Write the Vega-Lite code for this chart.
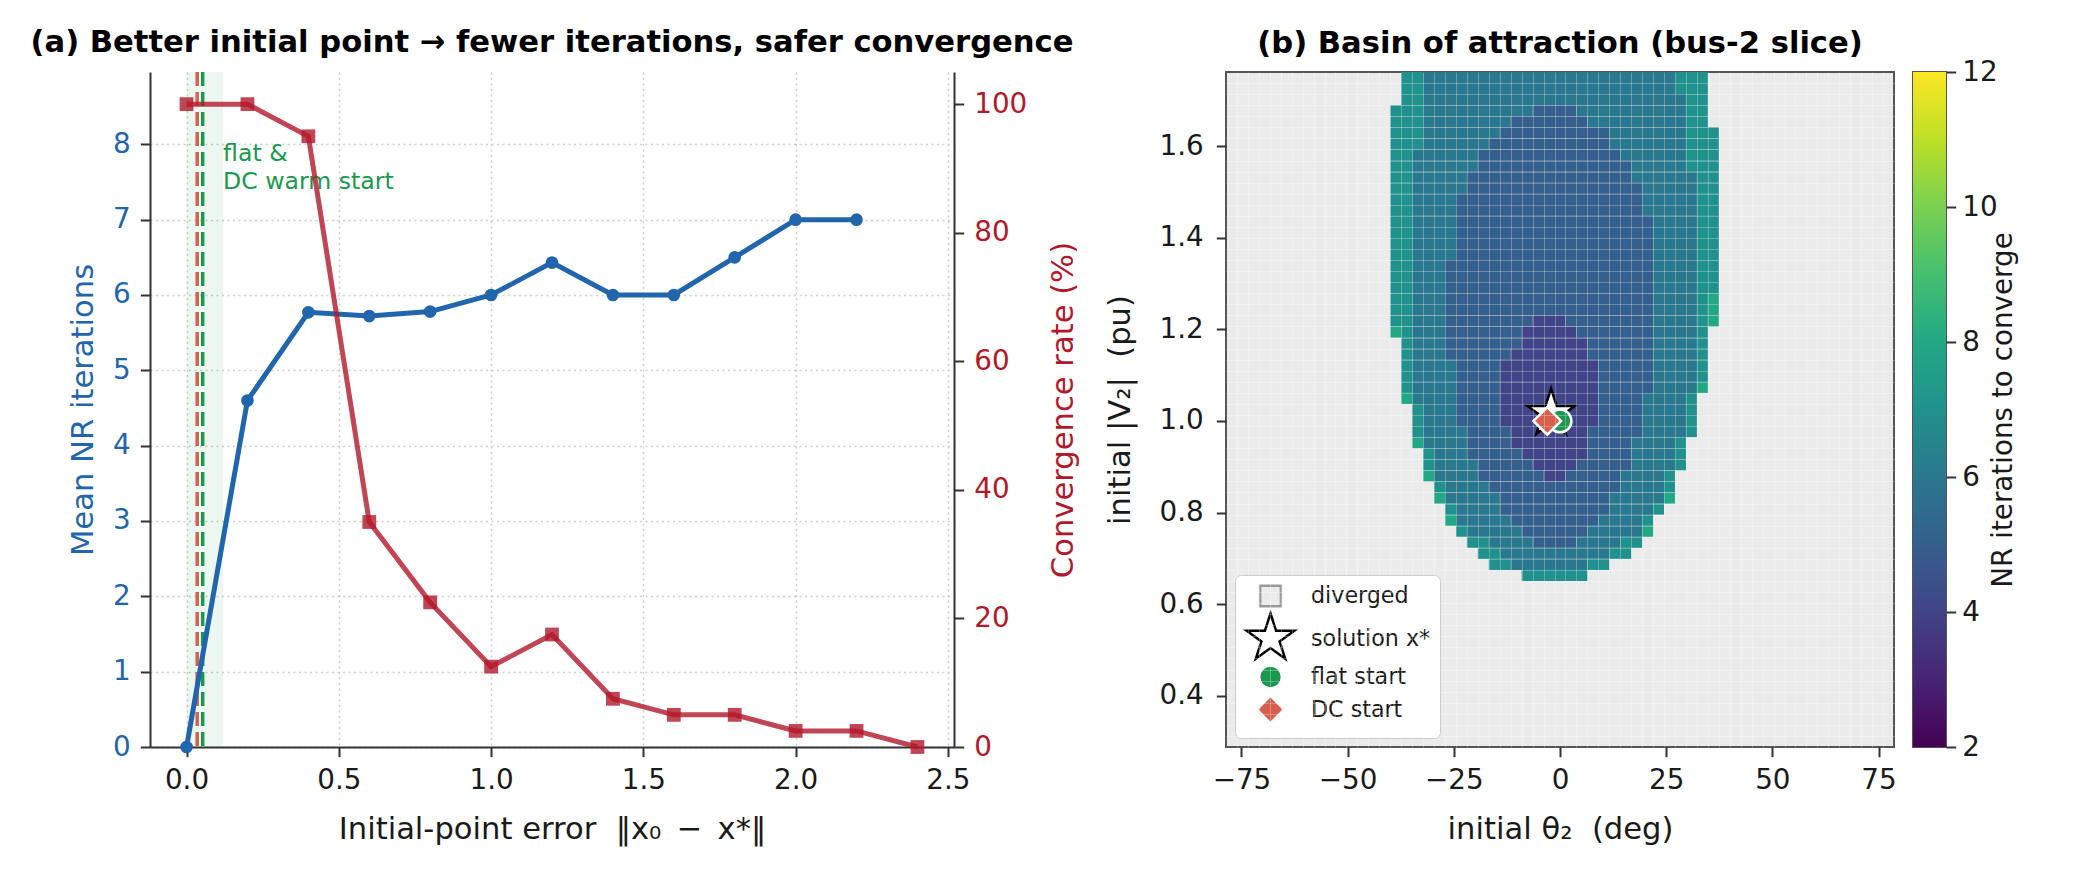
{
  "$schema": "https://vega.github.io/schema/vega-lite/v6.json",
  "background": "white",
  "padding": {"left": 30, "top": 27, "right": 10, "bottom": 10},
  "bounds": "flush",
  "spacing": 272,
  "resolve": {"legend": {"shape": "independent", "fill": "independent", "stroke": "independent", "size": "independent"}},
  "config": {
    "font": "DejaVu Sans",
    "view": {"stroke": null},
    "axis": {
      "labelFont": "DejaVu Sans", "titleFont": "DejaVu Sans",
      "labelFontSize": 27.8, "titleFontSize": 30.6, "titleFontWeight": "normal",
      "labelColor": "#1a1a1a", "titleColor": "#1a1a1a",
      "tickColor": "#333333", "domainColor": "#333333",
      "tickSize": 9.7, "tickWidth": 2, "domainWidth": 2,
      "labelPadding": 10, "titlePadding": 14, "labelFlush": false, "labelOverlap": false
    },
    "title": {"font": "DejaVu Sans", "fontSize": 30.6, "fontWeight": "bold", "color": "#000000", "anchor": "middle", "frame": "group", "offset": 12},
    "legend": {
      "orient": "bottom-left", "offset": 9, "padding": 9,
      "fillColor": "#ffffff", "strokeColor": "#cccccc", "cornerRadius": 6,
      "labelFont": "DejaVu Sans", "labelFontSize": 22.2, "labelColor": "#1a1a1a",
      "symbolStrokeWidth": 2.5, "rowPadding": -8, "labelOffset": 14
    }
  },
  "datasets": {
    "sweep": [
      {"err": 0.0, "iters": 0.0, "conv": 100},
      {"err": 0.2, "iters": 4.6, "conv": 100},
      {"err": 0.4, "iters": 5.77, "conv": 95},
      {"err": 0.6, "iters": 5.72, "conv": 35},
      {"err": 0.8, "iters": 5.78, "conv": 22.5},
      {"err": 1.0, "iters": 6.0, "conv": 12.5},
      {"err": 1.2, "iters": 6.43, "conv": 17.5},
      {"err": 1.4, "iters": 6.0, "conv": 7.5},
      {"err": 1.6, "iters": 6.0, "conv": 5},
      {"err": 1.8, "iters": 6.5, "conv": 5},
      {"err": 2.0, "iters": 7.0, "conv": 2.5},
      {"err": 2.2, "iters": 7.0, "conv": 2.5},
      {"err": 2.4, "iters": null, "conv": 0}
    ],
    "starts": [
      {"label": "solution x*", "th": -2.1, "V": 1.016},
      {"label": "flat start", "th": 0.0, "V": 1.0},
      {"label": "DC start", "th": -3.0, "V": 1.0}
    ],
    "basin": [
      {"v0":1.7138,"v1":1.7621,"t0":-37.39,"t1":-32.23,"n":7},
      {"v0":1.7138,"v1":1.7621,"t0":-32.23,"t1":27.07,"n":6},
      {"v0":1.7138,"v1":1.7621,"t0":27.07,"t1":34.81,"n":7},
      {"v0":1.6896,"v1":1.7138,"t0":-37.39,"t1":-32.23,"n":7},
      {"v0":1.6896,"v1":1.7138,"t0":-32.23,"t1":29.65,"n":6},
      {"v0":1.6896,"v1":1.7138,"t0":29.65,"t1":34.81,"n":7},
      {"v0":1.6654,"v1":1.6896,"t0":-39.96,"t1":-32.23,"n":7},
      {"v0":1.6654,"v1":1.6896,"t0":-32.23,"t1":-6.45,"n":6},
      {"v0":1.6654,"v1":1.6896,"t0":-6.45,"t1":3.87,"n":5},
      {"v0":1.6654,"v1":1.6896,"t0":3.87,"t1":29.65,"n":6},
      {"v0":1.6654,"v1":1.6896,"t0":29.65,"t1":34.81,"n":7},
      {"v0":1.6413,"v1":1.6654,"t0":-39.96,"t1":-32.23,"n":7},
      {"v0":1.6413,"v1":1.6654,"t0":-32.23,"t1":-11.6,"n":6},
      {"v0":1.6413,"v1":1.6654,"t0":-11.6,"t1":6.45,"n":5},
      {"v0":1.6413,"v1":1.6654,"t0":6.45,"t1":29.65,"n":6},
      {"v0":1.6413,"v1":1.6654,"t0":29.65,"t1":34.81,"n":7},
      {"v0":1.6171,"v1":1.6413,"t0":-39.96,"t1":-32.23,"n":7},
      {"v0":1.6171,"v1":1.6413,"t0":-32.23,"t1":-14.18,"n":6},
      {"v0":1.6171,"v1":1.6413,"t0":-14.18,"t1":11.6,"n":5},
      {"v0":1.6171,"v1":1.6413,"t0":11.6,"t1":29.65,"n":6},
      {"v0":1.6171,"v1":1.6413,"t0":29.65,"t1":37.39,"n":7},
      {"v0":1.5929,"v1":1.6171,"t0":-39.96,"t1":-32.23,"n":7},
      {"v0":1.5929,"v1":1.6171,"t0":-32.23,"t1":-16.76,"n":6},
      {"v0":1.5929,"v1":1.6171,"t0":-16.76,"t1":11.6,"n":5},
      {"v0":1.5929,"v1":1.6171,"t0":11.6,"t1":29.65,"n":6},
      {"v0":1.5929,"v1":1.6171,"t0":29.65,"t1":37.39,"n":7},
      {"v0":1.5688,"v1":1.5929,"t0":-39.96,"t1":-34.81,"n":7},
      {"v0":1.5688,"v1":1.5929,"t0":-34.81,"t1":-19.34,"n":6},
      {"v0":1.5688,"v1":1.5929,"t0":-19.34,"t1":14.18,"n":5},
      {"v0":1.5688,"v1":1.5929,"t0":14.18,"t1":29.65,"n":6},
      {"v0":1.5688,"v1":1.5929,"t0":29.65,"t1":37.39,"n":7},
      {"v0":1.5446,"v1":1.5688,"t0":-39.96,"t1":-34.81,"n":7},
      {"v0":1.5446,"v1":1.5688,"t0":-34.81,"t1":-19.34,"n":6},
      {"v0":1.5446,"v1":1.5688,"t0":-19.34,"t1":16.76,"n":5},
      {"v0":1.5446,"v1":1.5688,"t0":16.76,"t1":29.65,"n":6},
      {"v0":1.5446,"v1":1.5688,"t0":29.65,"t1":37.39,"n":7},
      {"v0":1.5204,"v1":1.5446,"t0":-39.96,"t1":-34.81,"n":7},
      {"v0":1.5204,"v1":1.5446,"t0":-34.81,"t1":-21.92,"n":6},
      {"v0":1.5204,"v1":1.5446,"t0":-21.92,"t1":16.76,"n":5},
      {"v0":1.5204,"v1":1.5446,"t0":16.76,"t1":32.23,"n":6},
      {"v0":1.5204,"v1":1.5446,"t0":32.23,"t1":37.39,"n":7},
      {"v0":1.4963,"v1":1.5204,"t0":-39.96,"t1":-34.81,"n":7},
      {"v0":1.4963,"v1":1.5204,"t0":-34.81,"t1":-21.92,"n":6},
      {"v0":1.4963,"v1":1.5204,"t0":-21.92,"t1":19.34,"n":5},
      {"v0":1.4963,"v1":1.5204,"t0":19.34,"t1":32.23,"n":6},
      {"v0":1.4963,"v1":1.5204,"t0":32.23,"t1":37.39,"n":7},
      {"v0":1.4479,"v1":1.4963,"t0":-39.96,"t1":-34.81,"n":7},
      {"v0":1.4479,"v1":1.4963,"t0":-34.81,"t1":-24.49,"n":6},
      {"v0":1.4479,"v1":1.4963,"t0":-24.49,"t1":19.34,"n":5},
      {"v0":1.4479,"v1":1.4963,"t0":19.34,"t1":32.23,"n":6},
      {"v0":1.4479,"v1":1.4963,"t0":32.23,"t1":37.39,"n":7},
      {"v0":1.3513,"v1":1.4479,"t0":-39.96,"t1":-34.81,"n":7},
      {"v0":1.3513,"v1":1.4479,"t0":-34.81,"t1":-24.49,"n":6},
      {"v0":1.3513,"v1":1.4479,"t0":-24.49,"t1":21.92,"n":5},
      {"v0":1.3513,"v1":1.4479,"t0":21.92,"t1":32.23,"n":6},
      {"v0":1.3513,"v1":1.4479,"t0":32.23,"t1":37.39,"n":7},
      {"v0":1.2788,"v1":1.3513,"t0":-39.96,"t1":-34.81,"n":7},
      {"v0":1.2788,"v1":1.3513,"t0":-34.81,"t1":-27.07,"n":6},
      {"v0":1.2788,"v1":1.3513,"t0":-27.07,"t1":21.92,"n":5},
      {"v0":1.2788,"v1":1.3513,"t0":21.92,"t1":32.23,"n":6},
      {"v0":1.2788,"v1":1.3513,"t0":32.23,"t1":37.39,"n":7},
      {"v0":1.2304,"v1":1.2788,"t0":-39.96,"t1":-34.81,"n":7},
      {"v0":1.2304,"v1":1.2788,"t0":-34.81,"t1":-27.07,"n":6},
      {"v0":1.2304,"v1":1.2788,"t0":-27.07,"t1":21.92,"n":5},
      {"v0":1.2304,"v1":1.2788,"t0":21.92,"t1":32.23,"n":6},
      {"v0":1.2304,"v1":1.2788,"t0":32.23,"t1":34.81,"n":7},
      {"v0":1.2304,"v1":1.2788,"t0":34.81,"t1":37.39,"n":8},
      {"v0":1.2063,"v1":1.2304,"t0":-39.96,"t1":-34.81,"n":7},
      {"v0":1.2063,"v1":1.2304,"t0":-34.81,"t1":-27.07,"n":6},
      {"v0":1.2063,"v1":1.2304,"t0":-27.07,"t1":-6.45,"n":5},
      {"v0":1.2063,"v1":1.2304,"t0":-6.45,"t1":1.29,"n":4},
      {"v0":1.2063,"v1":1.2304,"t0":1.29,"t1":21.92,"n":5},
      {"v0":1.2063,"v1":1.2304,"t0":21.92,"t1":32.23,"n":6},
      {"v0":1.2063,"v1":1.2304,"t0":32.23,"t1":34.81,"n":7},
      {"v0":1.2063,"v1":1.2304,"t0":34.81,"t1":37.39,"n":8},
      {"v0":1.1821,"v1":1.2063,"t0":-39.96,"t1":-37.39,"n":8},
      {"v0":1.1821,"v1":1.2063,"t0":-37.39,"t1":-34.81,"n":7},
      {"v0":1.1821,"v1":1.2063,"t0":-34.81,"t1":-27.07,"n":6},
      {"v0":1.1821,"v1":1.2063,"t0":-27.07,"t1":-9.02,"n":5},
      {"v0":1.1821,"v1":1.2063,"t0":-9.02,"t1":3.87,"n":4},
      {"v0":1.1821,"v1":1.2063,"t0":3.87,"t1":21.92,"n":5},
      {"v0":1.1821,"v1":1.2063,"t0":21.92,"t1":32.23,"n":6},
      {"v0":1.1821,"v1":1.2063,"t0":32.23,"t1":34.81,"n":7},
      {"v0":1.1579,"v1":1.1821,"t0":-37.39,"t1":-34.81,"n":7},
      {"v0":1.1579,"v1":1.1821,"t0":-34.81,"t1":-27.07,"n":6},
      {"v0":1.1579,"v1":1.1821,"t0":-27.07,"t1":-9.02,"n":5},
      {"v0":1.1579,"v1":1.1821,"t0":-9.02,"t1":6.45,"n":4},
      {"v0":1.1579,"v1":1.1821,"t0":6.45,"t1":21.92,"n":5},
      {"v0":1.1579,"v1":1.1821,"t0":21.92,"t1":32.23,"n":6},
      {"v0":1.1579,"v1":1.1821,"t0":32.23,"t1":34.81,"n":7},
      {"v0":1.1338,"v1":1.1579,"t0":-37.39,"t1":-34.81,"n":7},
      {"v0":1.1338,"v1":1.1579,"t0":-34.81,"t1":-27.07,"n":6},
      {"v0":1.1338,"v1":1.1579,"t0":-27.07,"t1":-11.6,"n":5},
      {"v0":1.1338,"v1":1.1579,"t0":-11.6,"t1":6.45,"n":4},
      {"v0":1.1338,"v1":1.1579,"t0":6.45,"t1":21.92,"n":5},
      {"v0":1.1338,"v1":1.1579,"t0":21.92,"t1":32.23,"n":6},
      {"v0":1.1338,"v1":1.1579,"t0":32.23,"t1":34.81,"n":7},
      {"v0":1.0854,"v1":1.1338,"t0":-37.39,"t1":-34.81,"n":7},
      {"v0":1.0854,"v1":1.1338,"t0":-34.81,"t1":-24.49,"n":6},
      {"v0":1.0854,"v1":1.1338,"t0":-24.49,"t1":-14.18,"n":5},
      {"v0":1.0854,"v1":1.1338,"t0":-14.18,"t1":9.02,"n":4},
      {"v0":1.0854,"v1":1.1338,"t0":9.02,"t1":21.92,"n":5},
      {"v0":1.0854,"v1":1.1338,"t0":21.92,"t1":32.23,"n":6},
      {"v0":1.0854,"v1":1.1338,"t0":32.23,"t1":34.81,"n":7},
      {"v0":1.0613,"v1":1.0854,"t0":-37.39,"t1":-34.81,"n":7},
      {"v0":1.0613,"v1":1.0854,"t0":-34.81,"t1":-24.49,"n":6},
      {"v0":1.0613,"v1":1.0854,"t0":-24.49,"t1":-14.18,"n":5},
      {"v0":1.0613,"v1":1.0854,"t0":-14.18,"t1":9.02,"n":4},
      {"v0":1.0613,"v1":1.0854,"t0":9.02,"t1":21.92,"n":5},
      {"v0":1.0613,"v1":1.0854,"t0":21.92,"t1":32.23,"n":6},
      {"v0":1.0613,"v1":1.0854,"t0":32.23,"t1":34.81,"n":8},
      {"v0":1.0371,"v1":1.0613,"t0":-37.39,"t1":-34.81,"n":8},
      {"v0":1.0371,"v1":1.0613,"t0":-34.81,"t1":-24.49,"n":6},
      {"v0":1.0371,"v1":1.0613,"t0":-24.49,"t1":-14.18,"n":5},
      {"v0":1.0371,"v1":1.0613,"t0":-14.18,"t1":9.02,"n":4},
      {"v0":1.0371,"v1":1.0613,"t0":9.02,"t1":19.34,"n":5},
      {"v0":1.0371,"v1":1.0613,"t0":19.34,"t1":29.65,"n":6},
      {"v0":1.0371,"v1":1.0613,"t0":29.65,"t1":32.23,"n":7},
      {"v0":0.9888,"v1":1.0371,"t0":-34.81,"t1":-32.23,"n":7},
      {"v0":0.9888,"v1":1.0371,"t0":-32.23,"t1":-24.49,"n":6},
      {"v0":0.9888,"v1":1.0371,"t0":-24.49,"t1":-14.18,"n":5},
      {"v0":0.9888,"v1":1.0371,"t0":-14.18,"t1":9.02,"n":4},
      {"v0":0.9888,"v1":1.0371,"t0":9.02,"t1":19.34,"n":5},
      {"v0":0.9888,"v1":1.0371,"t0":19.34,"t1":29.65,"n":6},
      {"v0":0.9888,"v1":1.0371,"t0":29.65,"t1":32.23,"n":7},
      {"v0":0.9646,"v1":0.9888,"t0":-34.81,"t1":-32.23,"n":7},
      {"v0":0.9646,"v1":0.9888,"t0":-32.23,"t1":-21.92,"n":6},
      {"v0":0.9646,"v1":0.9888,"t0":-21.92,"t1":-11.6,"n":5},
      {"v0":0.9646,"v1":0.9888,"t0":-11.6,"t1":6.45,"n":4},
      {"v0":0.9646,"v1":0.9888,"t0":6.45,"t1":19.34,"n":5},
      {"v0":0.9646,"v1":0.9888,"t0":19.34,"t1":29.65,"n":6},
      {"v0":0.9646,"v1":0.9888,"t0":29.65,"t1":32.23,"n":7},
      {"v0":0.9404,"v1":0.9646,"t0":-34.81,"t1":-32.23,"n":8},
      {"v0":0.9404,"v1":0.9646,"t0":-32.23,"t1":-21.92,"n":6},
      {"v0":0.9404,"v1":0.9646,"t0":-21.92,"t1":-11.6,"n":5},
      {"v0":0.9404,"v1":0.9646,"t0":-11.6,"t1":6.45,"n":4},
      {"v0":0.9404,"v1":0.9646,"t0":6.45,"t1":16.76,"n":5},
      {"v0":0.9404,"v1":0.9646,"t0":16.76,"t1":27.07,"n":6},
      {"v0":0.9404,"v1":0.9646,"t0":27.07,"t1":29.65,"n":7},
      {"v0":0.9163,"v1":0.9404,"t0":-32.23,"t1":-29.65,"n":7},
      {"v0":0.9163,"v1":0.9404,"t0":-29.65,"t1":-21.92,"n":6},
      {"v0":0.9163,"v1":0.9404,"t0":-21.92,"t1":-9.02,"n":5},
      {"v0":0.9163,"v1":0.9404,"t0":-9.02,"t1":6.45,"n":4},
      {"v0":0.9163,"v1":0.9404,"t0":6.45,"t1":16.76,"n":5},
      {"v0":0.9163,"v1":0.9404,"t0":16.76,"t1":27.07,"n":6},
      {"v0":0.9163,"v1":0.9404,"t0":27.07,"t1":29.65,"n":7},
      {"v0":0.8921,"v1":0.9163,"t0":-32.23,"t1":-29.65,"n":7},
      {"v0":0.8921,"v1":0.9163,"t0":-29.65,"t1":-19.34,"n":6},
      {"v0":0.8921,"v1":0.9163,"t0":-19.34,"t1":-6.45,"n":5},
      {"v0":0.8921,"v1":0.9163,"t0":-6.45,"t1":3.87,"n":4},
      {"v0":0.8921,"v1":0.9163,"t0":3.87,"t1":16.76,"n":5},
      {"v0":0.8921,"v1":0.9163,"t0":16.76,"t1":27.07,"n":6},
      {"v0":0.8921,"v1":0.9163,"t0":27.07,"t1":29.65,"n":7},
      {"v0":0.8679,"v1":0.8921,"t0":-32.23,"t1":-29.65,"n":8},
      {"v0":0.8679,"v1":0.8921,"t0":-29.65,"t1":-19.34,"n":6},
      {"v0":0.8679,"v1":0.8921,"t0":-19.34,"t1":-3.87,"n":5},
      {"v0":0.8679,"v1":0.8921,"t0":-3.87,"t1":1.29,"n":4},
      {"v0":0.8679,"v1":0.8921,"t0":1.29,"t1":14.18,"n":5},
      {"v0":0.8679,"v1":0.8921,"t0":14.18,"t1":24.49,"n":6},
      {"v0":0.8679,"v1":0.8921,"t0":24.49,"t1":27.07,"n":7},
      {"v0":0.8438,"v1":0.8679,"t0":-29.65,"t1":-27.07,"n":7},
      {"v0":0.8438,"v1":0.8679,"t0":-27.07,"t1":-16.76,"n":6},
      {"v0":0.8438,"v1":0.8679,"t0":-16.76,"t1":14.18,"n":5},
      {"v0":0.8438,"v1":0.8679,"t0":14.18,"t1":24.49,"n":6},
      {"v0":0.8438,"v1":0.8679,"t0":24.49,"t1":27.07,"n":7},
      {"v0":0.8196,"v1":0.8438,"t0":-29.65,"t1":-27.07,"n":8},
      {"v0":0.8196,"v1":0.8438,"t0":-27.07,"t1":-14.18,"n":6},
      {"v0":0.8196,"v1":0.8438,"t0":-14.18,"t1":11.6,"n":5},
      {"v0":0.8196,"v1":0.8438,"t0":11.6,"t1":24.49,"n":6},
      {"v0":0.8196,"v1":0.8438,"t0":24.49,"t1":27.07,"n":8},
      {"v0":0.7954,"v1":0.8196,"t0":-27.07,"t1":-24.49,"n":7},
      {"v0":0.7954,"v1":0.8196,"t0":-24.49,"t1":-14.18,"n":6},
      {"v0":0.7954,"v1":0.8196,"t0":-14.18,"t1":11.6,"n":5},
      {"v0":0.7954,"v1":0.8196,"t0":11.6,"t1":21.92,"n":6},
      {"v0":0.7954,"v1":0.8196,"t0":21.92,"t1":24.49,"n":7},
      {"v0":0.7713,"v1":0.7954,"t0":-27.07,"t1":-24.49,"n":8},
      {"v0":0.7713,"v1":0.7954,"t0":-24.49,"t1":-11.6,"n":6},
      {"v0":0.7713,"v1":0.7954,"t0":-11.6,"t1":9.02,"n":5},
      {"v0":0.7713,"v1":0.7954,"t0":9.02,"t1":19.34,"n":6},
      {"v0":0.7713,"v1":0.7954,"t0":19.34,"t1":21.92,"n":7},
      {"v0":0.7471,"v1":0.7713,"t0":-24.49,"t1":-21.92,"n":7},
      {"v0":0.7471,"v1":0.7713,"t0":-21.92,"t1":-9.02,"n":6},
      {"v0":0.7471,"v1":0.7713,"t0":-9.02,"t1":6.45,"n":5},
      {"v0":0.7471,"v1":0.7713,"t0":6.45,"t1":19.34,"n":6},
      {"v0":0.7471,"v1":0.7713,"t0":19.34,"t1":21.92,"n":8},
      {"v0":0.7229,"v1":0.7471,"t0":-21.92,"t1":-16.76,"n":7},
      {"v0":0.7229,"v1":0.7471,"t0":-16.76,"t1":-6.45,"n":6},
      {"v0":0.7229,"v1":0.7471,"t0":-6.45,"t1":3.87,"n":5},
      {"v0":0.7229,"v1":0.7471,"t0":3.87,"t1":14.18,"n":6},
      {"v0":0.7229,"v1":0.7471,"t0":14.18,"t1":19.34,"n":7},
      {"v0":0.6988,"v1":0.7229,"t0":-19.34,"t1":-14.18,"n":7},
      {"v0":0.6988,"v1":0.7229,"t0":-14.18,"t1":11.6,"n":6},
      {"v0":0.6988,"v1":0.7229,"t0":11.6,"t1":16.76,"n":7},
      {"v0":0.6746,"v1":0.6988,"t0":-16.76,"t1":-11.6,"n":7},
      {"v0":0.6746,"v1":0.6988,"t0":-11.6,"t1":6.45,"n":6},
      {"v0":0.6746,"v1":0.6988,"t0":6.45,"t1":11.6,"n":7},
      {"v0":0.6504,"v1":0.6746,"t0":-9.02,"t1":6.45,"n":7}
    ]
  },
  "hconcat": [
    {
      "width": 804,
      "height": 675,
      "title": {"text": "(a) Better initial point → fewer iterations, safer convergence"},
      "data": {"name": "sweep"},
      "layer": [
        {
          "layer": [
            {
              "data": {"values": [{}]},
              "mark": {"type": "rect", "color": "#1a9850", "opacity": 0.08},
              "encoding": {"x": {"datum": 0, "type": "quantitative"}, "x2": {"datum": 0.12}}
            },
            {
              "data": {"values": [{}]},
              "mark": {"type": "rule", "color": "#d6604d", "strokeWidth": 3.5, "strokeDash": [14, 6]},
              "encoding": {"x": {"datum": 0.035, "type": "quantitative"}}
            },
            {
              "data": {"values": [{}]},
              "mark": {"type": "rule", "color": "#1a9850", "strokeWidth": 3.5, "strokeDash": [14, 6]},
              "encoding": {"x": {"datum": 0.053, "type": "quantitative"}}
            },
            {
              "mark": {"type": "line", "color": "#2166ac", "strokeWidth": 5},
              "encoding": {
                "x": {
                  "field": "err", "type": "quantitative",
                  "scale": {"domain": [-0.12, 2.52], "nice": false, "zero": false},
                  "axis": {
                    "values": [0, 0.5, 1, 1.5, 2, 2.5], "format": ".1f",
                    "title": "Initial-point error \u00a0‖x₀\u2002−\u2002x*‖", "titlePadding": 20,
                    "grid": true, "gridDash": [2, 3.5], "gridColor": "#cfcfcf", "gridWidth": 1.5
                  }
                },
                "y": {
                  "field": "iters", "type": "quantitative",
                  "scale": {"domain": [0, 8.96], "nice": false, "zero": false},
                  "axis": {
                    "values": [0, 1, 2, 3, 4, 5, 6, 7, 8], "format": "d", "title": "Mean NR iterations",
                    "labelColor": "#2166ac", "titleColor": "#2166ac",
                    "grid": true, "gridDash": [2, 3.5], "gridColor": "#cfcfcf", "gridWidth": 1.5
                  }
                }
              }
            },
            {
              "mark": {"type": "point", "filled": true, "color": "#2166ac", "size": 160, "opacity": 1},
              "encoding": {
                "x": {"field": "err", "type": "quantitative"},
                "y": {"field": "iters", "type": "quantitative"}
              }
            },
            {
              "data": {"values": [{}]},
              "mark": {
                "type": "text", "text": ["flat &", "DC warm start"],
                "color": "#1a9850", "fontSize": 23.6, "align": "left", "baseline": "alphabetic", "lineHeight": 28.5
              },
              "encoding": {"x": {"datum": 0.12, "type": "quantitative"}, "y": {"datum": 7.78, "type": "quantitative"}}
            }
          ]
        },
        {
          "encoding": {
            "x": {"field": "err", "type": "quantitative"},
            "y": {
              "field": "conv", "type": "quantitative",
              "scale": {"domain": [0, 105], "nice": false, "zero": false},
              "axis": {
                "orient": "right", "values": [0, 20, 40, 60, 80, 100],
                "title": "Convergence rate (%)", "titleAngle": 270, "titleBaseline": "top", "titlePadding": 22,
                "labelColor": "#b2182b", "titleColor": "#b2182b", "grid": false
              }
            }
          },
          "layer": [
            {"mark": {"type": "line", "color": "#b2182b", "strokeWidth": 5, "opacity": 0.8}},
            {"mark": {"type": "point", "shape": "square", "filled": true, "color": "#b2182b", "size": 190, "opacity": 0.8}}
          ]
        }
      ],
      "resolve": {"scale": {"y": "independent"}}
    },
    {
      "bounds": "flush",
      "spacing": 19,
      "resolve": {"legend": {"shape": "independent", "fill": "independent", "stroke": "independent", "size": "independent"}},
      "hconcat": [
        {
          "width": 668,
          "height": 675,
          "title": {"text": "(b) Basin of attraction (bus-2 slice)"},
          "view": {"fill": "#ebebeb", "stroke": "#555555", "strokeWidth": 2},
          "layer": [
            {
              "data": {"name": "basin"},
              "mark": {"type": "rect"},
              "encoding": {
                "x": {
                  "field": "t0", "type": "quantitative",
                  "scale": {"domain": [-78.64, 78.64], "nice": false, "zero": false},
                  "axis": {"values": [-75, -50, -25, 0, 25, 50, 75], "title": "initial θ₂ \u00a0(deg)", "titlePadding": 20, "grid": false, "domain": false}
                },
                "x2": {"field": "t1"},
                "y": {
                  "field": "v0", "type": "quantitative",
                  "scale": {"domain": [0.2879, 1.7621], "nice": false, "zero": false},
                  "axis": {"values": [0.4, 0.6, 0.8, 1.0, 1.2, 1.4, 1.6], "format": ".1f", "title": "initial |V₂| \u00a0(pu)", "labelPadding": 13, "titlePadding": 24, "grid": false, "domain": false}
                },
                "y2": {"field": "v1"},
                "color": {"field": "n", "type": "quantitative", "scale": {"scheme": "viridis", "domain": [2, 12]}, "legend": null}
              }
            },
            {
              "data": {"name": "starts"},
              "mark": {"type": "point", "filled": false, "strokeWidth": 2.5, "opacity": 1, "fillOpacity": 1},
              "encoding": {
                "x": {
                  "field": "th", "type": "quantitative",
                  "scale": {"domain": [-78.64, 78.64], "nice": false, "zero": false},
                  "axis": {
                    "values": [-76.06, -73.48, -70.9, -68.33, -65.75, -63.17, -60.59, -58.01, -55.43, -52.86, -50.28, -47.7, -45.12, -42.54, -39.96, -37.39, -34.81, -32.23, -29.65, -27.07, -24.49, -21.92, -19.34, -16.76, -14.18, -11.6, -9.02, -6.45, -3.87, -1.29, 1.29, 3.87, 6.45, 9.02, 11.6, 14.18, 16.76, 19.34, 21.92, 24.49, 27.07, 29.65, 32.23, 34.81, 37.39, 39.96, 42.54, 45.12, 47.7, 50.28, 52.86, 55.43, 58.01, 60.59, 63.17, 65.75, 68.33, 70.9, 73.48, 76.06],
                    "grid": true, "gridColor": "#ffffff", "gridOpacity": 0.35, "gridWidth": 0.8,
                    "labels": false, "ticks": false, "domain": false, "title": null, "zindex": 1
                  }
                },
                "y": {
                  "field": "V", "type": "quantitative",
                  "scale": {"domain": [0.2879, 1.7621], "nice": false, "zero": false},
                  "axis": {
                    "values": [0.3121, 0.3363, 0.3604, 0.3846, 0.4088, 0.4329, 0.4571, 0.4813, 0.5054, 0.5296, 0.5538, 0.5779, 0.6021, 0.6263, 0.6504, 0.6746, 0.6988, 0.7229, 0.7471, 0.7713, 0.7954, 0.8196, 0.8438, 0.8679, 0.8921, 0.9163, 0.9404, 0.9646, 0.9888, 1.0129, 1.0371, 1.0613, 1.0854, 1.1096, 1.1338, 1.1579, 1.1821, 1.2063, 1.2304, 1.2546, 1.2788, 1.3029, 1.3271, 1.3513, 1.3754, 1.3996, 1.4238, 1.4479, 1.4721, 1.4963, 1.5204, 1.5446, 1.5688, 1.5929, 1.6171, 1.6413, 1.6654, 1.6896, 1.7138, 1.7379],
                    "grid": true, "gridColor": "#ffffff", "gridOpacity": 0.35, "gridWidth": 0.8,
                    "labels": false, "ticks": false, "domain": false, "title": null, "zindex": 1
                  }
                },
                "shape": {
                  "field": "label", "type": "nominal", "title": null,
                  "scale": {
                    "domain": ["diverged", "solution x*", "flat start", "DC start"],
                    "range": ["square", "M0,-1L0.2245,-0.309L0.951,-0.309L0.363,0.118L0.588,0.809L0,0.382L-0.588,0.809L-0.363,0.118L-0.951,-0.309L-0.2245,-0.309Z", "circle", "M0,-1L1,0L0,1L-1,0Z"]
                  }
                },
                "fill": {
                  "field": "label", "type": "nominal", "title": null,
                  "scale": {"domain": ["diverged", "solution x*", "flat start", "DC start"], "range": ["#ebebeb", "#ffffff", "#1a9850", "#d6604d"]}
                },
                "stroke": {
                  "field": "label", "type": "nominal", "title": null,
                  "scale": {"domain": ["diverged", "solution x*", "flat start", "DC start"], "range": ["#999999", "#000000", "#ffffff", "#ffffff"]}
                },
                "size": {
                  "field": "label", "type": "nominal", "title": null,
                  "scale": {"type": "ordinal", "domain": ["diverged", "solution x*", "flat start", "DC start"], "range": [430, 2500, 520, 760]}
                }
              }
            }
          ],
          "resolve": {"axis": {"x": "independent", "y": "independent"}}
        },
        {
          "width": 33,
          "height": 675,
          "view": {"stroke": "#555555", "strokeWidth": 2},
          "data": {"values": [{"lo": 2, "hi": 12}]},
          "mark": {
            "type": "rect",
            "color": {
              "gradient": "linear", "x1": 0, "y1": 1, "x2": 0, "y2": 0,
              "stops": [
                {"offset": 0.0, "color": "#440154"},
                {"offset": 0.1, "color": "#482475"},
                {"offset": 0.2, "color": "#414487"},
                {"offset": 0.3, "color": "#355f8d"},
                {"offset": 0.4, "color": "#2a788e"},
                {"offset": 0.5, "color": "#21918c"},
                {"offset": 0.6, "color": "#22a884"},
                {"offset": 0.7, "color": "#44bf70"},
                {"offset": 0.8, "color": "#7ad151"},
                {"offset": 0.9, "color": "#bddf26"},
                {"offset": 1.0, "color": "#fde725"}
              ]
            }
          },
          "encoding": {
            "y": {
              "field": "lo", "type": "quantitative",
              "scale": {"domain": [2, 12], "nice": false, "zero": false},
              "axis": {
                "orient": "right", "values": [2, 4, 6, 8, 10, 12],
                "title": "NR iterations to converge", "titleAngle": 270, "titleBaseline": "top", "titleFontSize": 27.8,
                "labelPadding": 6, "titlePadding": -8, "domain": false, "grid": false
              }
            },
            "y2": {"field": "hi"}
          }
        }
      ]
    }
  ]
}
